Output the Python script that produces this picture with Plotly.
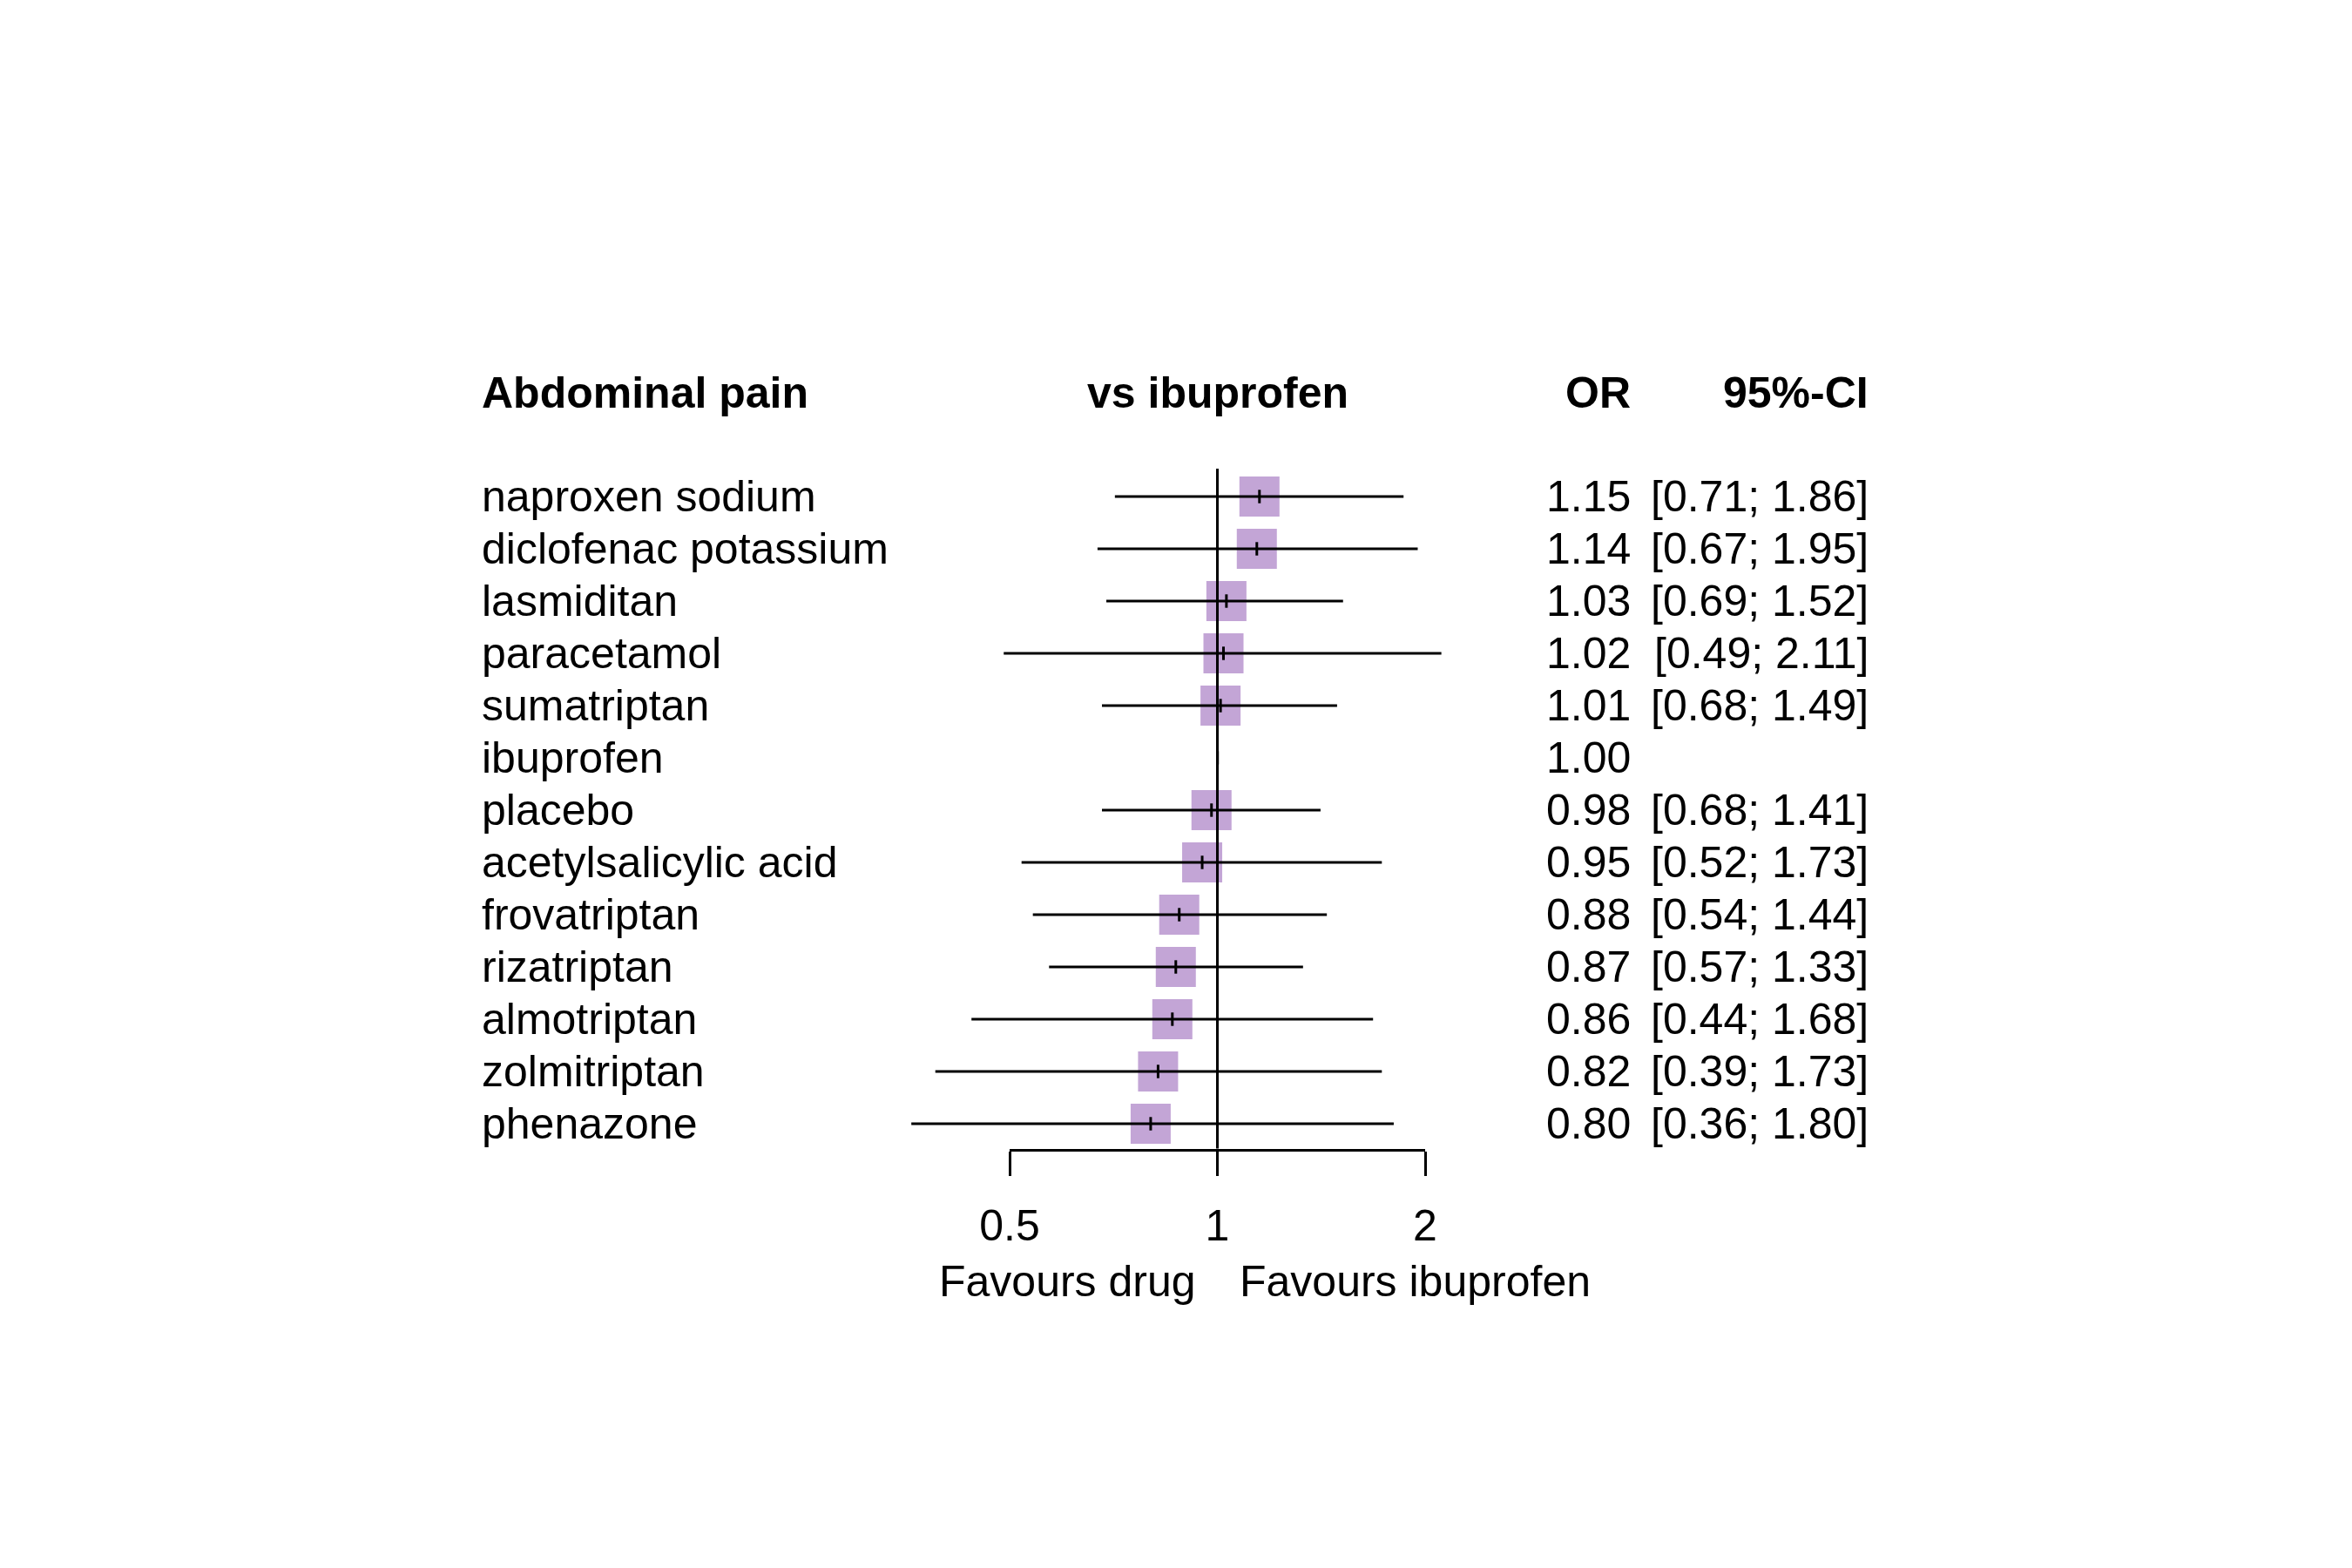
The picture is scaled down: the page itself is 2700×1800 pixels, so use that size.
import math
import plotly.graph_objects as go

# ---- data ----
title_left = "Abdominal pain"
title_mid = "vs ibuprofen"
col_or = "OR"
col_ci = "95%-CI"
drugs = ["naproxen sodium", "diclofenac potassium", "lasmiditan", "paracetamol",
         "sumatriptan", "ibuprofen", "placebo", "acetylsalicylic acid",
         "frovatriptan", "rizatriptan", "almotriptan", "zolmitriptan", "phenazone"]
or_vals = [1.15, 1.14, 1.03, 1.02, 1.01, 1.00, 0.98, 0.95, 0.88, 0.87, 0.86, 0.82, 0.80]
ci_low = [0.71, 0.67, 0.69, 0.49, 0.68, None, 0.68, 0.52, 0.54, 0.57, 0.44, 0.39, 0.36]
ci_high = [1.86, 1.95, 1.52, 2.11, 1.49, None, 1.41, 1.73, 1.44, 1.33, 1.68, 1.73, 1.80]
reference = "ibuprofen"
tick_vals = [0.5, 1, 2]
tick_text = ["0.5", "1", "2"]
label_left = "Favours drug"
label_right = "Favours ibuprofen"

# ---- layout constants ----
W, H = 2700, 1800
OX, OY = 8, 8           # page offset of the plot div
FONT = "Liberation Sans, Arial, sans-serif"
FS = 50
BOX = "#C3A5D6"
LW = 3
rows = list(range(1, len(drugs) + 1))
px_per_log10 = 238.5 / math.log10(2)
ref_px = 1397.7 - OX
x_r0 = -ref_px / px_per_log10
x_r1 = x_r0 + W / px_per_log10
axis_px = 1318.5 - OY          # plot-area bottom (axis line drawn just outside)
row_px0, row_step = 570.0 - OY, 60.0
y_top = 1 - row_px0 / row_step
y_bot = 1 + (axis_px - row_px0) / row_step


def ypx(p):
    return 1 + (p - OY - row_px0) / row_step


def xpaper(p):
    return (p - OX) / W


fig = go.Figure()

# reference line (x2 axis)
fig.add_trace(go.Scatter(x=[1, 1], y=[ypx(538), ypx(1320)], mode="lines",
                         line=dict(color="black", width=LW),
                         xaxis="x2", yaxis="y", hoverinfo="skip", showlegend=False,
                         cliponaxis=False))

# boxes
bx = [v for v, d in zip(or_vals, drugs) if d != reference]
by = [r for r, d in zip(rows, drugs) if d != reference]
fig.add_trace(go.Scatter(x=bx, y=by, mode="markers",
                         marker=dict(symbol="square", size=46, color=BOX, line=dict(width=0)),
                         hoverinfo="skip", showlegend=False, cliponaxis=False))

# CI lines
cx, cy = [], []
for lo, hi, r in zip(ci_low, ci_high, rows):
    if lo is None:
        continue
    cx += [lo, hi, None]
    cy += [r, r, None]
fig.add_trace(go.Scatter(x=cx, y=cy, mode="lines", line=dict(color="black", width=LW),
                         hoverinfo="skip", showlegend=False))

# point estimate ticks
fig.add_trace(go.Scatter(x=or_vals, y=rows, mode="markers",
                         marker=dict(symbol="line-ns", size=11,
                                     line=dict(color="black", width=LW)),
                         hoverinfo="skip", showlegend=False, cliponaxis=False))

A = dict(showarrow=False, borderpad=0, borderwidth=0)
ann = []
y_head = ypx(451)
ann.append(dict(x=xpaper(553), xref="paper", y=y_head, yref="y", text=f"<b>{title_left}</b>",
                xanchor="left", yanchor="middle", **A))
ann.append(dict(x=0, xref="x", y=y_head, yref="y", text=f"<b>{title_mid}</b>",
                xanchor="center", yanchor="middle", **A))
ann.append(dict(x=xpaper(1872), xref="paper", y=y_head, yref="y", text=f"<b>{col_or}</b>",
                xanchor="right", yanchor="middle", **A))
ann.append(dict(x=xpaper(2145), xref="paper", y=y_head, yref="y", text=f"<b>{col_ci}</b>",
                xanchor="right", yanchor="middle", **A))

for d, v, lo, hi, r in zip(drugs, or_vals, ci_low, ci_high, rows):
    ann.append(dict(x=xpaper(553), xref="paper", y=r, yref="y", text=d,
                    xanchor="left", yanchor="middle", **A))
    ann.append(dict(x=xpaper(1872), xref="paper", y=r, yref="y", text=f"{v:.2f}",
                    xanchor="right", yanchor="middle", **A))
    if lo is not None:
        ann.append(dict(x=xpaper(2145), xref="paper", y=r, yref="y",
                        text=f"[{lo:.2f}; {hi:.2f}]",
                        xanchor="right", yanchor="middle", **A))

y_fav = 1 - (1471 - OY) / H
ann.append(dict(x=0, xref="x", xshift=-25, y=y_fav, yref="paper", text=label_left,
                xanchor="right", yanchor="middle", **A))
ann.append(dict(x=0, xref="x", xshift=25, y=y_fav, yref="paper", text=label_right,
                xanchor="left", yanchor="middle", **A))

fig.update_layout(
    template="none",
    width=W, height=H,
    margin=dict(l=0, r=0, t=0, b=0, pad=0, autoexpand=False),
    paper_bgcolor="white", plot_bgcolor="rgba(0,0,0,0)",
    font=dict(family=FONT, size=FS, color="black"),
    annotations=ann,
    showlegend=False,
    xaxis=dict(type="log", range=[x_r0, x_r1], domain=[0, 1], visible=False,
               automargin=False, fixedrange=True),
    xaxis2=dict(type="log", range=[math.log10(0.5), math.log10(2)],
                domain=[xpaper(1159), xpaper(1636)], anchor="y", side="bottom",
                showline=True, linecolor="black", linewidth=LW,
                showgrid=False, zeroline=False, automargin=False,
                ticks="outside", ticklen=28, tickwidth=LW, tickcolor="black",
                tickvals=tick_vals, ticktext=tick_text, ticklabelstandoff=14,
                tickfont=dict(family=FONT, size=FS, color="black"),
                fixedrange=True),
    yaxis=dict(range=[y_bot, y_top], domain=[1 - axis_px / H, 1], visible=False,
               automargin=False, fixedrange=True),
)

fig.write_html("out.html")
